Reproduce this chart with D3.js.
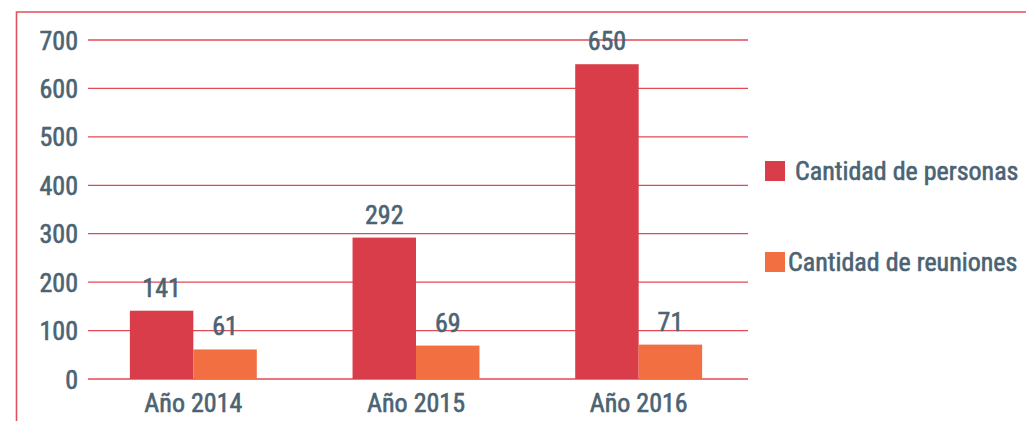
<!DOCTYPE html>
<html><head><meta charset="utf-8">
<script src="https://cdn.jsdelivr.net/npm/d3@7/dist/d3.min.js"></script>
<style>
html,body{margin:0;padding:0;background:#fff;}
svg{display:block;}
text{font-family:"Liberation Sans Narrow","Arial Narrow","Roboto Condensed",sans-serif;fill:#4b6373;stroke:#4b6373;stroke-width:0.6px;}
</style></head>
<body>
<script>
const categories = ["Año 2014", "Año 2015", "Año 2016"];
const seriesNames = ["Cantidad de personas", "Cantidad de reuniones"];
const personas = [141, 292, 650];
const reuniones = [61, 69, 71];
const yTicks = [0, 100, 200, 300, 400, 500, 600, 700];
const colors = ["#da3d4a", "#f26f42"];

const W = 1026, H = 421;
const FS = 26, FW = "normal";
const svg = d3.select("body").append("svg").attr("width", W).attr("height", H);

// frame
svg.append("path").attr("d", `M16.5,${H} V12 H${W}`).attr("fill","none")
  .attr("stroke","#e0525c").attr("stroke-width",1.6);

const y = d3.scaleLinear().domain([0,700]).range([379,40]);
const gridX0 = 88, gridX1 = 748;
const x = d3.scaleBand().domain(categories).range([82,750]).paddingInner(0.43).paddingOuter(0.215);
const xs = d3.scaleBand().domain(seriesNames).range([0, x.bandwidth()]);

// gridlines
svg.append("g").selectAll("line").data(yTicks).join("line")
  .attr("x1",gridX0).attr("x2",gridX1)
  .attr("y1",d=>y(d)).attr("y2",d=>y(d))
  .attr("stroke","#e04a55").attr("stroke-width",1.3);

// y axis labels
const yAxis = d3.axisLeft(y).tickValues(yTicks).tickSize(0).tickPadding(0);
const ga = svg.append("g").attr("transform","translate(78,0)").call(yAxis);
ga.select(".domain").remove();
ga.selectAll("text").attr("font-size",FS).attr("font-weight",FW)
  .attr("fill","#4b6373").attr("font-family",null).attr("dy","0.35em");

const rows = categories.map((c,i)=>({cat:c, vals:[personas[i], reuniones[i]]}));
const g = svg.append("g");
rows.forEach(r=>{
  r.vals.forEach((v,j)=>{
    const bx = x(r.cat)+xs(seriesNames[j]);
    g.append("rect").attr("x",bx).attr("y",y(v)).attr("width",xs.bandwidth())
      .attr("height",y(0)-y(v)).attr("fill",colors[j]);
    g.append("text").attr("x",bx+xs.bandwidth()/2).attr("y",y(v)-14)
      .attr("text-anchor","middle").attr("font-size",FS).attr("font-weight",FW).text(v);
  });
});

// x axis labels
const xAxis = d3.axisBottom(x).tickSize(0).tickPadding(0);
const gx = svg.append("g").attr("transform","translate(0,412)").call(xAxis);
gx.select(".domain").remove();
gx.selectAll("text").attr("font-size",FS).attr("font-weight",FW)
  .attr("fill","#4b6373").attr("font-family",null).attr("dy",0);

// legend
const leg = svg.append("g");
const legY = [171, 262];
const legTextX = [795, 788];
seriesNames.forEach((s,i)=>{
  leg.append("rect").attr("x",765).attr("y",legY[i]-10).attr("width",20).attr("height",20).attr("fill",colors[i]);
  leg.append("text").attr("x",legTextX[i]).attr("y",legY[i]).attr("dy","0.35em")
    .attr("font-size",FS).attr("font-weight",FW).text(s);
});
</script>
</body></html>
